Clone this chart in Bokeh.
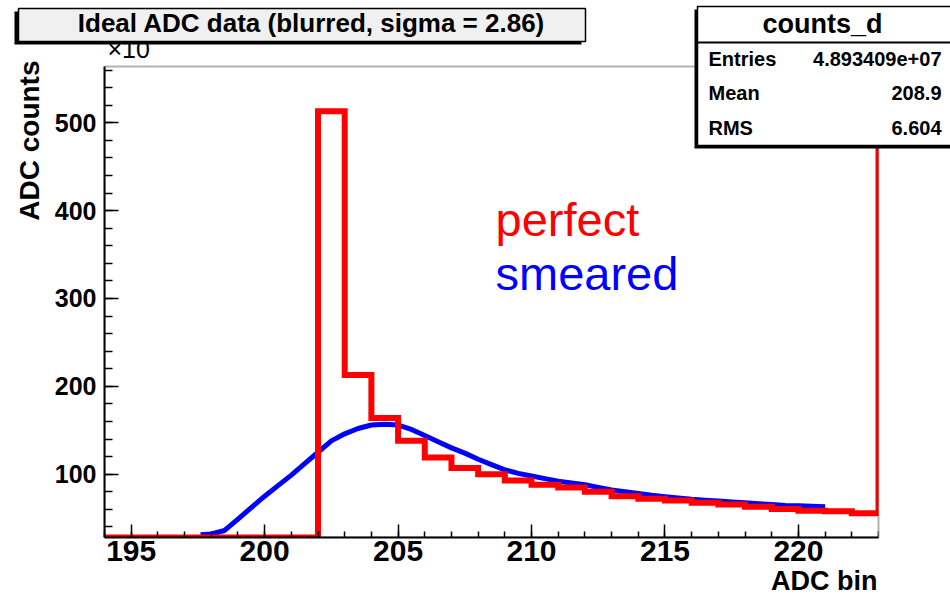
import numpy as np
from bokeh.plotting import figure
from bokeh.layouts import row
from bokeh.models import Range1d, Label, BoxAnnotation, FixedTicker, Title
from bokeh.embed import file_html
from bokeh.resources import INLINE

# ---------------- data (counts in units of x10) ----------------
bin_edges = list(range(194, 224))  # 1-ADC-bin wide bins, 194 .. 223
perfect_counts = [0, 0, 0, 0, 0, 0, 0, 0,
                  513, 213, 164, 138, 119, 107, 100, 93, 88, 85, 80, 75,
                  72, 70, 67.5, 65.5, 63, 60.5, 58.5, 58, 55.5]
perfect_overflow = 600  # off-scale next bin (drawn as the edge at 223)

smeared_x = [197.6, 198.0, 198.5, 199.0, 199.5, 200.0, 200.5, 201.0, 201.5, 202.0,
             202.5, 203.0, 203.5, 204.0, 204.5, 205.0, 205.5, 206.0, 206.5, 207.0,
             207.5, 208.0, 208.5, 209.0, 209.5, 210.0, 210.5, 211.0, 211.5, 212.0,
             212.5, 213.0, 213.5, 214.0, 214.5, 215.0, 215.5, 216.0, 216.5, 217.0,
             217.5, 218.0, 218.5, 219.0, 219.5, 220.0, 220.5, 221.0]
smeared_counts = [31, 32, 36, 49, 62, 75, 87, 99, 112, 125,
                  138, 146, 152, 156, 157, 156, 151, 144, 137, 130,
                  124, 117, 111, 105, 101, 98, 95, 92, 90, 88,
                  85, 82, 80, 78, 76, 74.5, 73, 71.5, 70.5, 69.5,
                  68.5, 67.5, 66.5, 65.5, 64.5, 64, 63.5, 63]

x_major_ticks = [195, 200, 205, 210, 215, 220]
y_major_ticks = [100, 200, 300, 400, 500]
x_axis_range = (194, 223)
y_axis_range = (28, 564)

title_text = "Ideal ADC data (blurred, sigma = 2.86)"
stats_name = "counts_d"
stats_rows = [("Entries", "4.893409e+07"), ("Mean", "208.9"), ("RMS", "6.604")]

# ---------------- layout (pixels) ----------------
W, H = 950, 597
AX_L, AX_R, AX_T, AX_B = 104, 878, 66, 537   # visible histogram frame
FONT = "Liberation Sans"

# the drawing frame spans up to the top and right edges of the canvas;
# the visible frame is drawn as a box in data units
kx = (AX_R - AX_L) / (x_axis_range[1] - x_axis_range[0])
ky = (AX_B - AX_T) / (y_axis_range[1] - y_axis_range[0])
x_full = (x_axis_range[0], x_axis_range[0] + (W - AX_L) / kx)
y_full = (y_axis_range[0], y_axis_range[0] + AX_B / ky)

p = figure(width=W, height=H, x_range=Range1d(*x_full), y_range=Range1d(*y_full),
           output_backend="svg", toolbar_location=None,
           min_border_left=AX_L, min_border_right=0,
           min_border_top=0, min_border_bottom=H - AX_B)
p.title.visible = False
p.grid.visible = False
p.background_fill_color = "white"
p.border_fill_color = "white"
p.outline_line_color = None

p.xaxis.ticker = FixedTicker(ticks=x_major_ticks, minor_ticks=list(range(194, 224)))
p.yaxis.ticker = FixedTicker(ticks=y_major_ticks, minor_ticks=list(range(40, 564, 20)))
p.xaxis.bounds = x_axis_range
p.yaxis.bounds = y_axis_range
for ax in (p.xaxis, p.yaxis):
    ax.axis_line_color = "black"
    ax.axis_line_width = 2
    ax.major_tick_out = 0
    ax.minor_tick_out = 0
    ax.major_tick_line_color = "black"
    ax.minor_tick_line_color = "black"
    ax.major_tick_line_width = 1.5
    ax.minor_tick_line_width = 1.5
    ax.major_label_text_font = FONT
    ax.major_label_text_font_style = "bold"
    ax.major_label_text_color = "black"
p.xaxis.major_tick_in = 13
p.xaxis.minor_tick_in = 6
p.yaxis.major_tick_in = 14
p.yaxis.minor_tick_in = 8
p.xaxis.major_label_text_font_size = "30px"
p.yaxis.major_label_text_font_size = "25px"
p.xaxis.major_label_standoff = 3
p.yaxis.major_label_standoff = 8

# ---------------- histograms ----------------
edges = np.array(bin_edges, dtype=float)
counts = np.array(perfect_counts, dtype=float)
step_x = np.concatenate([np.repeat(edges, 2)[1:-1], [edges[-1]]])
step_y = np.concatenate([np.repeat(counts, 2), [perfect_overflow]])
step_y = np.maximum(step_y, y_axis_range[0])  # empty bins sit on the axis

p.line(smeared_x, smeared_counts, line_color="#0000ff", line_width=5)
p.line(step_x, step_y, line_color="#ff0000", line_width=6, line_join="miter")

# area right of the visible frame stays blank (histogram clipped at the frame)
p.add_layout(BoxAnnotation(left=x_axis_range[1], right=x_full[1],
                           bottom=y_full[0], top=y_full[1],
                           fill_color="white", fill_alpha=1, line_alpha=0))
# visible frame
p.add_layout(BoxAnnotation(left=x_axis_range[0], right=x_axis_range[1],
                           bottom=y_axis_range[0], top=y_axis_range[1],
                           fill_alpha=0, line_color="black", line_width=2))

# ---------------- annotations in p (screen positions relative to frame) ----------------
def sx(X):
    return X - AX_L

def sy(Y):
    return AX_B - Y

def label(text, X, baseline_Y, size, color="black", style="normal", align="left"):
    # label drawn with middle baseline; convert from the wanted alphabetic baseline
    yc = baseline_Y - 0.3465 * size
    return Label(x=sx(X), y=sy(yc), x_units="screen", y_units="screen", text=text,
                 text_font=FONT, text_font_size=f"{size}px", text_color=color,
                 text_font_style=style, text_align=align, text_baseline="middle")

# legend-like texts
p.add_layout(label("perfect", 495, 235, 47, color="#ff0000"))
p.add_layout(label("smeared", 495, 289, 47, color="#0000ff"))

# axis titles (outside the frame, in the side panels)
p.add_layout(Title(text="ADC counts", align="right", offset=60, standoff=14,
                   text_font=FONT, text_font_size="28px", text_font_style="bold",
                   text_color="black"), "left")
p.add_layout(Title(text="ADC bin", align="right", offset=W - 877, standoff=0,
                   vertical_align="bottom",
                   text_font=FONT, text_font_size="27px", text_font_style="bold",
                   text_color="black"), "below")

# ---------------- overlay canvas (pixel coordinates, y downwards) ----------------
q = figure(width=W, height=H, x_range=Range1d(0, W), y_range=Range1d(AX_B, 0),
           x_axis_location=None, y_axis_location=None,
           min_border_left=0, min_border_right=0, min_border_top=0,
           min_border_bottom=H - AX_B,
           output_backend="svg", toolbar_location=None)
q.title.visible = False
q.grid.visible = False
q.outline_line_color = None
q.background_fill_color = None
q.border_fill_color = None
q.styles = {"position": "absolute", "top": "0px", "left": "0px"}

def qbox(l, t, r, b, fill, line=None, lw=0):
    return BoxAnnotation(left=l, right=r, top=t, bottom=b,
                         fill_color=fill, fill_alpha=1,
                         line_color=line, line_width=lw, line_alpha=1 if line else 0)

def qlabel(text, X, baseline_Y, size, color="black", style="normal", align="left"):
    yc = baseline_Y - 0.3465 * size
    return Label(x=X, y=yc, text=text,
                 text_font=FONT, text_font_size=f"{size}px", text_color=color,
                 text_font_style=style, text_align=align, text_baseline="middle")

# x10 exponent (partly under the title box)
q.add_layout(qlabel("\u00d710", 107, 57, 25))

# title box with shadow
q.add_layout(qbox(14, 11, 581, 44, "black"))
q.add_layout(qbox(18, 8, 585, 41, "#f0f0f0", "black", 1.5))
q.add_layout(qlabel(title_text, 311, 32, 26, style="bold", align="center"))

# stats box with shadow
q.add_layout(qbox(694, 9, 960, 148, "black"))
q.add_layout(qbox(697, 6, 962, 145, "white", "black", 1.5))
q.add_layout(qbox(697, 41, 962, 43, "black"))
q.add_layout(qlabel(stats_name, 822, 33, 27, style="bold", align="center"))
row_y = [65, 99, 134]
for (k, v), yy in zip(stats_rows, row_y):
    q.add_layout(qlabel(k, 708, yy, 20, style="bold"))
    q.add_layout(qlabel(v, 941, yy, 20, style="bold", align="right"))

root = row(p, q)
open("out.html", "w").write(file_html(root, INLINE))
